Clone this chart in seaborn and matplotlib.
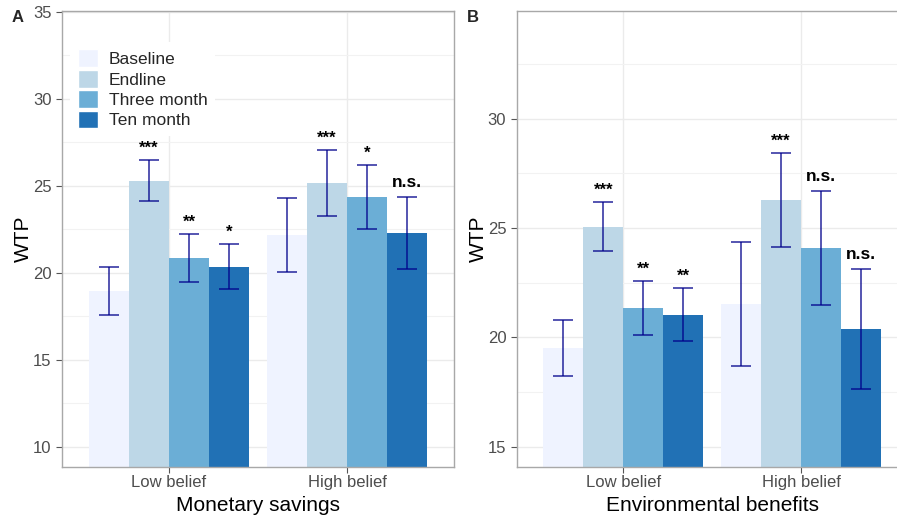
import numpy as np
import pandas as pd
import matplotlib
matplotlib.use("Agg")
import matplotlib.pyplot as plt
from matplotlib.patches import Patch
from matplotlib.ticker import MultipleLocator
import seaborn as sns

groups = ["Low belief", "High belief"]
waves = ["Baseline", "Endline", "Three month", "Ten month"]
colors = ["#EFF3FF", "#BDD7E7", "#6BAED6", "#2171B5"]

# panel A - monetary savings (low belief x4, high belief x4)
money_wtp = [18.96, 25.27, 20.83, 20.36, 22.16, 25.19, 24.35, 22.31]
money_lo = [17.60, 24.12, 19.48, 19.04, 20.02, 23.27, 22.50, 20.23]
money_hi = [20.35, 26.50, 22.23, 21.67, 24.31, 27.04, 26.21, 24.37]
money_sig = ["", "***", "**", "*", "", "***", "*", "n.s."]

# panel B - environmental benefits
env_wtp = [19.53, 25.06, 21.35, 21.02, 21.52, 26.30, 24.08, 20.37]
env_lo = [18.23, 23.95, 20.09, 19.83, 18.68, 24.15, 21.46, 17.64]
env_hi = [20.80, 26.17, 22.60, 22.25, 24.37, 28.42, 26.71, 23.12]
env_sig = ["", "***", "**", "**", "", "***", "n.s.", "n.s."]

sns.set_style("white")
plt.rcParams["font.family"] = ["Liberation Sans", "DejaVu Sans"]

fig = plt.figure(figsize=(8.97, 5.17), dpi=100)
axA = fig.add_axes([0.0691, 0.0973, 0.437, 0.8814])
axB = fig.add_axes([0.576, 0.0973, 0.4358, 0.8814])


def draw_panel(ax, wtp, lo, hi, sig, ylim, xlabel):
    df = pd.DataFrame({"belief": np.repeat(groups, 4), "wave": waves * 2, "wtp": wtp})
    sns.barplot(data=df, x="belief", y="wtp", hue="wave", hue_order=waves,
                palette=colors, saturation=1, width=0.9, errorbar=None,
                legend=False, ax=ax, zorder=2, linewidth=0)
    bar_sets = list(ax.containers)
    for i, cont in enumerate(bar_sets):
        for j, bar in enumerate(cont):
            k = j * 4 + i
            x = bar.get_x() + bar.get_width() / 2
            ax.errorbar(x, wtp[k], yerr=[[wtp[k] - lo[k]], [hi[k] - wtp[k]]],
                        fmt="none", ecolor="darkblue", alpha=0.85, elinewidth=1.1,
                        capsize=7, capthick=1.1, zorder=3)
            if sig[k]:
                big = sig[k] == "n.s."
                ax.annotate(sig[k], xy=(x, hi[k]), xytext=(0, 5 if big else 3),
                            textcoords="offset points", ha="center", va="bottom",
                            fontsize=12.5 if big else 12, fontweight="bold", color="black")
    ax.set_xlim(-0.6, 1.6)
    ax.set_ylim(*ylim)
    ax.yaxis.set_major_locator(MultipleLocator(5))
    ax.yaxis.set_minor_locator(MultipleLocator(2.5))
    ax.grid(True, which="major", color="#EBEBEB", lw=1.0, zorder=0)
    ax.grid(True, which="minor", axis="y", color="#F2F2F2", lw=0.8, zorder=0)
    ax.set_axisbelow(True)
    for s in ax.spines.values():
        s.set_color("#A8A8A8")
        s.set_linewidth(1.0)
    ax.tick_params(axis="both", which="major", length=4, color="#555555",
                   labelsize=12, labelcolor="#4D4D4D", left=True, bottom=True)
    ax.tick_params(axis="x", which="major", pad=2)
    ax.tick_params(axis="y", which="minor", length=0)
    ax.set_xlabel(xlabel, fontsize=15, color="black", labelpad=4)
    ax.set_ylabel("WTP", fontsize=15, color="black", labelpad=0)


draw_panel(axA, money_wtp, money_lo, money_hi, money_sig, (8.85, 35.05), "Monetary savings")
draw_panel(axB, env_wtp, env_lo, env_hi, env_sig, (14.09, 34.92), "Environmental benefits")

handles = [Patch(facecolor=c, edgecolor="white", linewidth=1) for c in colors]
leg = axA.legend(handles, waves, loc="upper left", bbox_to_anchor=(0.02, 0.933),
                 fontsize=12.5, frameon=True, facecolor="white", edgecolor="none",
                 framealpha=1, handlelength=1.2, handleheight=1.2,
                 labelspacing=0.15, handletextpad=0.6, borderpad=0.45,
                 borderaxespad=0)
leg.set_zorder(5)

fig.text(18 / 897, 1 - 17 / 517, "A", fontsize=12, fontweight="bold", ha="center", va="center")
fig.text(473 / 897, 1 - 17 / 517, "B", fontsize=12, fontweight="bold", ha="center", va="center")

fig.savefig("out.png", dpi=100)
